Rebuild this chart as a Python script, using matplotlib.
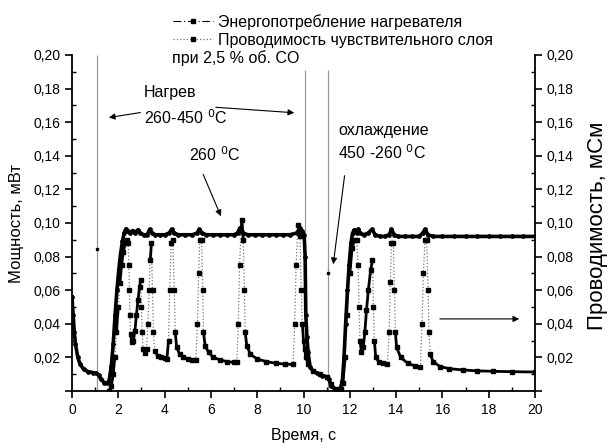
import numpy as np
import matplotlib.pyplot as plt
from matplotlib.collections import LineCollection
from matplotlib.lines import Line2D
from matplotlib.ticker import MultipleLocator, FuncFormatter

plt.rcParams['font.family'] = ['Liberation Sans', 'DejaVu Sans']

# ---- heater power (plateau curve)
power_t = [0.0, 0.05, 0.1, 0.15, 0.25, 0.35, 0.5, 0.7, 0.9, 1.05, 1.15, 1.25, 1.4, 1.5,
           1.6, 1.7, 1.78, 1.86, 1.94, 2.02, 2.1, 2.18, 2.25, 2.32, 2.4, 2.5, 2.62, 2.72,
           2.85, 2.95, 3.1, 3.25, 3.35, 3.45, 3.6, 3.8, 4.0, 4.2, 4.3, 4.42, 4.6, 4.9,
           5.2, 5.4, 5.5, 5.62, 5.8, 6.1, 6.4, 6.7, 7.0, 7.15, 7.25, 7.38, 7.6, 7.9,
           8.2, 8.5, 8.8, 9.1, 9.4, 9.7, 9.85, 9.95, 10.03, 10.07, 10.1, 10.15, 10.2,
           10.28, 10.4, 10.6, 10.8, 11.0, 11.1, 11.2, 11.35, 11.5, 11.6, 11.68, 11.75,
           11.82, 11.9, 11.97, 12.05, 12.12, 12.2, 12.3, 12.36, 12.45, 12.6, 12.8, 12.95,
           13.1, 13.3, 13.5, 13.7, 13.8, 13.92, 14.1, 14.4, 14.7, 15.0, 15.15, 15.25,
           15.38, 15.6, 16.0, 16.5, 17.0, 17.5, 18.0, 18.5, 19.0, 19.5, 20.0]
power_v = [0.056, 0.045, 0.035, 0.028, 0.02, 0.016, 0.013, 0.0115, 0.011, 0.0105, 0.0095,
           0.007, 0.005, 0.0045, 0.006, 0.015, 0.028, 0.045, 0.06, 0.072, 0.082, 0.089,
           0.094, 0.0965, 0.095, 0.094, 0.0955, 0.094, 0.096, 0.094, 0.093, 0.093, 0.0962,
           0.094, 0.093, 0.093, 0.093, 0.094, 0.0962, 0.094, 0.093, 0.093, 0.093, 0.094,
           0.0962, 0.094, 0.093, 0.093, 0.093, 0.093, 0.093, 0.094, 0.097, 0.094, 0.093,
           0.093, 0.093, 0.093, 0.093, 0.093, 0.093, 0.094, 0.097, 0.095, 0.093, 0.08,
           0.045, 0.032, 0.023, 0.0145, 0.012, 0.0105, 0.0092, 0.0085, 0.007, 0.003, 0.001,
           0.001, 0.002, 0.006, 0.02, 0.04, 0.06, 0.075, 0.088, 0.094, 0.096, 0.094,
           0.0962, 0.094, 0.093, 0.094, 0.0962, 0.093, 0.092, 0.092, 0.093, 0.0962, 0.093,
           0.092, 0.092, 0.092, 0.092, 0.094, 0.0962, 0.093, 0.092, 0.092, 0.092, 0.092,
           0.092, 0.092, 0.092, 0.092, 0.092, 0.092]

# ---- sensing layer conductance (spiky curve)
cond_t = [1.6, 1.7, 1.78, 1.85, 1.92, 2.0, 2.07, 2.14, 2.22, 2.3, 2.38, 2.43, 2.46, 2.48,
          2.5, 2.53, 2.58, 2.65, 2.72, 2.78, 2.85, 2.92, 2.97, 3.0, 3.03, 3.07, 3.15, 3.22,
          3.28, 3.33, 3.38, 3.43, 3.48, 3.52, 3.57, 3.7, 3.85, 4.0, 4.1, 4.17, 4.22, 4.28,
          4.35, 4.42, 4.46, 4.52, 4.65, 4.8, 5.0, 5.2, 5.35, 5.42, 5.47, 5.52, 5.6, 5.65,
          5.68, 5.75, 5.9, 6.1, 6.4, 6.7, 7.0, 7.12, 7.18, 7.24, 7.3, 7.34, 7.4, 7.45,
          7.48, 7.55, 7.7, 8.0, 8.4, 8.8, 9.2, 9.55, 9.62, 9.68, 9.76, 9.85, 9.9, 9.95,
          10.0, 10.05, 10.1, 10.2, 10.4, 10.7, 11.0, 11.2, 11.4, 11.6, 11.7, 11.8, 11.9,
          12.0, 12.1, 12.2, 12.3, 12.36, 12.4, 12.44, 12.5, 12.58, 12.65, 12.72, 12.8,
          12.9, 12.98, 13.02, 13.06, 13.12, 13.25, 13.45, 13.62, 13.7, 13.75, 13.8, 13.88,
          13.93, 13.97, 14.02, 14.2, 14.5, 14.8, 15.05, 15.12, 15.18, 15.25, 15.32, 15.38,
          15.42, 15.47, 15.6, 15.9, 16.3, 16.9, 17.5, 18.2, 19.0, 20.0]
cond_v = [0.0, 0.003, 0.01, 0.02, 0.035, 0.05, 0.064, 0.075, 0.083, 0.088, 0.09, 0.088,
          0.075, 0.06, 0.045, 0.034, 0.029, 0.03, 0.036, 0.045, 0.054, 0.062, 0.066, 0.05,
          0.035, 0.025, 0.0225, 0.025, 0.04, 0.06, 0.078, 0.088, 0.06, 0.035, 0.024, 0.021,
          0.02, 0.0195, 0.019, 0.03, 0.06, 0.088, 0.09, 0.06, 0.035, 0.026, 0.022, 0.0205,
          0.019, 0.0185, 0.0185, 0.04, 0.07, 0.09, 0.09, 0.06, 0.035, 0.027, 0.023, 0.02,
          0.0185, 0.0175, 0.017, 0.017, 0.04, 0.075, 0.095, 0.102, 0.09, 0.06, 0.035,
          0.027, 0.022, 0.019, 0.0175, 0.0165, 0.016, 0.0158, 0.04, 0.075, 0.099, 0.092,
          0.06, 0.04, 0.03, 0.025, 0.02, 0.016, 0.012, 0.01, 0.0085, 0.004, 0.001, 0.001,
          0.005, 0.02, 0.045, 0.07, 0.085, 0.09, 0.09, 0.075, 0.05, 0.03, 0.0235, 0.026,
          0.035, 0.048, 0.06, 0.072, 0.078, 0.05, 0.03, 0.02, 0.0175, 0.0165, 0.016, 0.035,
          0.065, 0.088, 0.088, 0.06, 0.035, 0.026, 0.02, 0.0165, 0.015, 0.0145, 0.04, 0.07,
          0.09, 0.09, 0.06, 0.035, 0.022, 0.0175, 0.0145, 0.0133, 0.0125, 0.012, 0.0117,
          0.0115, 0.0113]

# thin grey switching lines
switch_t = [1.1, 10.06, 11.06]
switch_top = [0.20, 0.191, 0.191]
switch_bot = [0.0, 0.093, 0.0]
switch_dot_t = [1.1, 11.06]
switch_dot_v = [0.0845, 0.070]

fig = plt.figure(figsize=(6.11, 4.43), dpi=100)
ax = fig.add_axes([72 / 611, 1 - 391 / 443, 463 / 611, 336 / 443])

ax.vlines(switch_t, switch_bot, switch_top, colors='0.6', lw=0.9, zorder=1)
ax.plot(switch_dot_t, switch_dot_v, 's', color='k', ms=2, zorder=2)

# conductance: dotted where steep, solid black where slow
ct = np.array(cond_t)
cv = np.array(cond_v)
ax.plot(ct, cv, ls=':', color='0.45', lw=0.9, marker='s', ms=2.4,
        mfc='k', mec='k', zorder=3)
slope = np.abs(np.diff(cv) / np.diff(ct))
segs = np.stack([np.column_stack([ct[:-1], cv[:-1]]),
                 np.column_stack([ct[1:], cv[1:]])], axis=1)
lc = LineCollection(segs[slope < 0.2], colors='k', linewidths=2.0, zorder=3)
ax.add_collection(lc)

# power
ax.plot(power_t, power_v, '-', color='k', lw=2.6, marker='o', ms=2.4, zorder=4)

ax.set_xlim(0, 20)
ax.set_ylim(0, 0.20)
ax.spines['top'].set_visible(False)
ax.spines['right'].set_visible(False)
for s in ['left', 'bottom']:
    ax.spines[s].set_linewidth(1.3)

fmt = FuncFormatter(lambda v, p: '' if v < 0.005 else ('%.2f' % v).replace('.', ','))
ax.xaxis.set_major_locator(MultipleLocator(2))
ax.xaxis.set_minor_locator(MultipleLocator(1))
ax.yaxis.set_major_locator(MultipleLocator(0.02))
ax.yaxis.set_minor_locator(MultipleLocator(0.01))
ax.yaxis.set_major_formatter(fmt)
ax.tick_params(which='major', direction='out', length=5, width=1.2, labelsize=10)
ax.tick_params(which='minor', direction='in', length=3, width=1.0)

ax2 = ax.twinx()
ax2.set_ylim(0, 0.20)
ax2.spines['top'].set_visible(False)
ax2.spines['left'].set_visible(False)
ax2.spines['bottom'].set_visible(False)
ax2.spines['right'].set_linewidth(1.3)
ax2.yaxis.set_major_locator(MultipleLocator(0.02))
ax2.yaxis.set_minor_locator(MultipleLocator(0.01))
ax2.yaxis.set_major_formatter(fmt)
ax2.tick_params(which='major', direction='out', length=5, width=1.2, labelsize=10)
ax2.tick_params(which='minor', direction='in', length=3, width=1.0)

ax.set_xlabel('Время, с', fontsize=11.5, labelpad=8)
fig.text(17 / 611, 1 - 224 / 443, 'Мощность, мВт', fontsize=12, rotation=90,
         ha='center', va='center')
fig.text(597 / 611, 1 - 226 / 443, 'Проводимость, мСм', fontsize=16, rotation=90,
         ha='center', va='center')

# annotations
fs = 11.5
ap = dict(arrowstyle='-|>', color='k', lw=0.8, mutation_scale=9)
ax.text(3.11, 0.1774, 'Нагрев', fontsize=fs, va='center')
ax.text(3.11, 0.163, '260-450 $^{\\rm 0}$C', fontsize=fs, va='center')
ax.annotate('', xy=(1.47, 0.1625), xytext=(3.07, 0.166), arrowprops=ap)
ax.annotate('', xy=(9.72, 0.1655), xytext=(6.09, 0.169), arrowprops=ap)
ax.text(5.05, 0.1405, '260 $^{\\rm 0}$C', fontsize=fs, va='center')
ax.annotate('', xy=(6.48, 0.1025), xytext=(5.62, 0.1304), arrowprops=ap)
ax.text(11.49, 0.155, 'охлаждение', fontsize=fs, va='center')
ax.text(11.49, 0.142, '450 -260 $^{\\rm 0}$C', fontsize=fs, va='center')
ax.annotate('', xy=(11.27, 0.0738), xytext=(11.79, 0.1298), arrowprops=ap)
ax.annotate('', xy=(19.44, 0.0429), xytext=(15.77, 0.0429), arrowprops=ap)

# legend
h1 = Line2D([], [], color='k', lw=0.8, ls=(0, (7, 2.5, 1, 2.5)), marker='s', ms=2.2)
h2 = Line2D([], [], color='0.45', lw=0.9, ls=':', marker='s', ms=2.2, mfc='k', mec='k')
fig.legend([h1, h2], ['Энергопотребление нагревателя',
                      'Проводимость чувствительного слоя'],
           loc='upper left', bbox_to_anchor=(165 / 611, 1 - 6 / 443), frameon=False,
           fontsize=fs, handlelength=2.5, handletextpad=0.3, labelspacing=0.2,
           borderpad=0, numpoints=1)
fig.text(172 / 611, 1 - 58 / 443, 'при 2,5 % об. CO', fontsize=fs, va='center')

fig.savefig('out.png', dpi=100)
